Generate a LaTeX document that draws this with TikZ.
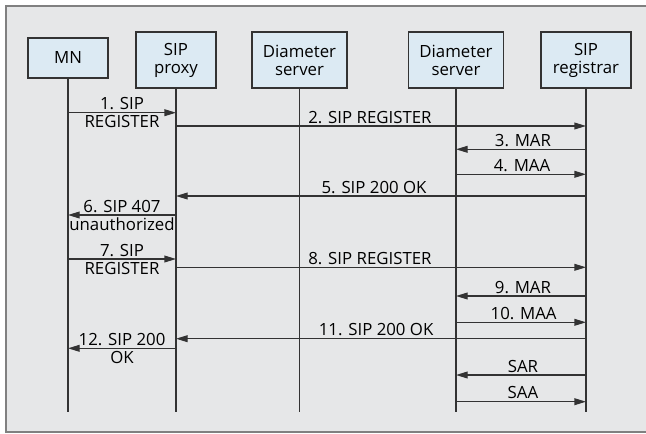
\documentclass[tikz,border=0pt]{standalone}
\usepackage{fontspec}
\setmainfont{Open Sans}
\usetikzlibrary{arrows.meta}

\definecolor{panelgrey}{HTML}{E6E7E8}
\definecolor{entityblue}{HTML}{DCEAF3}
\definecolor{inkgrey}{HTML}{333333}

\begin{document}
\begin{tikzpicture}[x=0.5pt,y=-0.5pt,
    entity/.style={draw=inkgrey, fill=entityblue, line width=0.6pt, align=center,
        inner sep=0pt, minimum height=28pt, font=\fontsize{8.4}{9}\selectfont},
    lifeline/.style={inkgrey, line width=0.6pt},
    msg/.style={inkgrey, line width=0.6pt, -{Triangle[length=5.8pt,width=3.4pt]}},
    lbl/.style={text=black, inner sep=1pt, align=center, font=\fontsize{8.4}{9}\selectfont}]

    % Sfondo e cornice
    \useasboundingbox (0,0) rectangle (646,433);
    \clip (0,0) rectangle (646,433);
    \draw[gray, line width=0.8pt, fill=panelgrey] (6,6) rectangle (700,432);

    % Entita'
    \node[entity, minimum width=40pt, minimum height=20pt] (mn) at (68,58) {MN};
    \node[entity, minimum width=40pt] (proxy) at (176,60) {SIP\\proxy};
    \node[entity, minimum width=47.5pt] (dia1) at (299.5,60) {Diameter\\server};
    \node[entity, minimum width=47.5pt] (dia2) at (456,60) {Diameter\\server};
    \node[entity, minimum width=45pt] (reg) at (586,60) {SIP\\registrar};

    % Linee di vita
    \foreach \n in {mn,proxy,dia1,dia2,reg}
        \draw[lifeline] (\n.south) -- (\n |- 0,412);

    % Prima registrazione
    \draw[msg] (mn |- 0,112.7) -- (proxy |- 0,112.7) node[lbl, midway] {1. SIP\\REGISTER};
    \draw[msg] (proxy |- 0,126) -- (reg |- 0,126) node[lbl, pos=0.473, above] {2. SIP REGISTER};
    \draw[msg] (reg |- 0,149.3) -- (dia2 |- 0,149.3) node[lbl, pos=0.485, above] {3. MAR};
    \draw[msg] (dia2 |- 0,174.3) -- (reg |- 0,174.3) node[lbl, pos=0.508, above] {4. MAA};
    \draw[msg] (reg |- 0,196) -- (proxy |- 0,196) node[lbl, pos=0.517, above] {5. SIP 200 OK};
    \draw[msg] (proxy |- 0,215) -- (mn |- 0,215) node[lbl, midway] {6. SIP 407\\unauthorized};

    % Seconda registrazione
    \draw[msg] (mn |- 0,259) -- (proxy |- 0,259) node[lbl, midway] {7. SIP\\REGISTER};
    \draw[msg] (proxy |- 0,267.3) -- (reg |- 0,267.3) node[lbl, pos=0.473, above] {8. SIP REGISTER};
    \draw[msg] (reg |- 0,296) -- (dia2 |- 0,296) node[lbl, pos=0.485, above] {9. MAR};
    \draw[msg] (dia2 |- 0,322.3) -- (reg |- 0,322.3) node[lbl, pos=0.52, above] {10. MAA};
    \draw[msg] (reg |- 0,338.7) -- (proxy |- 0,338.7) node[lbl, pos=0.512, above] {11. SIP 200 OK};
    \draw[msg] (proxy |- 0,348.3) -- (mn |- 0,348.3) node[lbl, midway] {12. SIP 200\\OK};

    % Server assignment
    \draw[msg] (reg |- 0,375) -- (dia2 |- 0,375) node[lbl, pos=0.485, above] {SAR};
    \draw[msg] (dia2 |- 0,401.7) -- (reg |- 0,401.7) node[lbl, pos=0.515, above] {SAA};

\end{tikzpicture}
\end{document}
